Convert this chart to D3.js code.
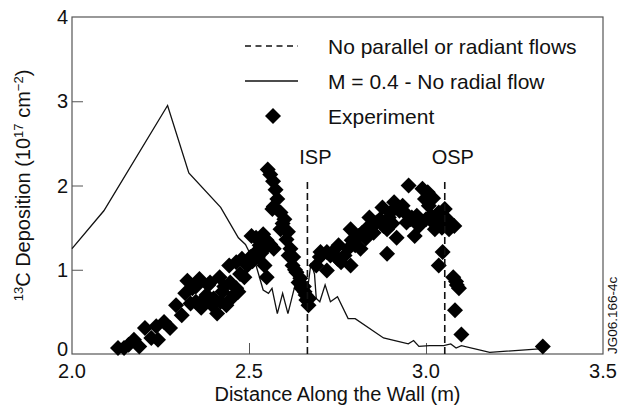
<!DOCTYPE html>
<html>
<head>
<meta charset="utf-8">
<script src="https://cdn.jsdelivr.net/npm/d3@7"></script>
<style>
  body { margin: 0; background: #fff; }
  text { font-family: "Liberation Sans", Arial, sans-serif; fill: #111; }
</style>
</head>
<body>
<svg width="625" height="410"></svg>
<script>
// model curve: M = 0.4 - No radial flow
const modelX = [2.0, 2.09, 2.27, 2.33, 2.42, 2.47, 2.49, 2.52, 2.54, 2.555, 2.565, 2.58, 2.595, 2.61, 2.635, 2.65, 2.665, 2.675, 2.685, 2.69, 2.70, 2.715, 2.73, 2.75, 2.78, 2.80, 2.88, 2.95, 2.965, 2.98, 3.01, 3.05, 3.07, 3.085, 3.10, 3.18, 3.32];
const modelY = [1.25, 1.70, 2.95, 2.15, 1.74, 1.38, 1.30, 1.05, 0.76, 0.72, 0.78, 0.48, 0.72, 0.48, 0.90, 0.80, 0.75, 1.08, 0.95, 0.66, 0.62, 0.82, 0.62, 0.68, 0.42, 0.42, 0.19, 0.12, 0.16, 0.09, 0.10, 0.10, 0.12, 0.07, 0.10, 0.02, 0.06];

// experiment points
const expX = [2.13, 2.147, 2.16, 2.175, 2.19, 2.206, 2.224, 2.243, 2.238, 2.26, 2.277, 2.294, 2.31, 2.326, 2.34, 2.35, 2.36, 2.374, 2.385, 2.396, 2.41, 2.417, 2.425, 2.436, 2.447, 2.458, 2.464, 2.444, 2.464, 2.48, 2.487, 2.504, 2.507, 2.52, 2.53, 2.54, 2.553, 2.56, 2.544, 2.55,
  2.32, 2.335, 2.35, 2.365, 2.38, 2.39, 2.40, 2.42, 2.43, 2.45, 2.47, 2.475, 2.495, 2.51, 2.525, 2.535, 2.52, 2.55, 2.57,
  2.553, 2.56, 2.568, 2.575, 2.58, 2.566, 2.589, 2.6, 2.589, 2.606, 2.617, 2.612, 2.623, 2.634, 2.64, 2.648, 2.657, 2.662, 2.668,
  2.57, 2.595, 2.61, 2.625, 2.63, 2.645, 2.655, 2.66, 2.67,
  2.69, 2.702, 2.72, 2.72, 2.736, 2.753, 2.76, 2.77, 2.787, 2.787, 2.8, 2.81, 2.82, 2.83, 2.84, 2.852, 2.86, 2.877, 2.89, 2.89, 2.9, 2.91, 2.917, 2.934, 2.94, 2.951, 2.957, 2.968, 2.974, 2.99, 2.997, 3.008, 3.014, 3.02, 3.025, 3.036, 3.042, 3.053, 3.065, 3.08, 3.036, 3.047, 3.077, 3.087, 3.093, 3.082, 3.1, 3.33,
  2.70, 2.73, 2.75, 2.78, 2.79, 2.815, 2.83, 2.85, 2.87, 2.88, 2.895, 2.905, 2.925, 2.945, 2.96, 2.98, 3.0, 3.005, 3.02, 3.03, 3.045, 3.06, 3.085];
const expY = [0.07, 0.07, 0.11, 0.17, 0.09, 0.31, 0.19, 0.17, 0.33, 0.38, 0.31, 0.58, 0.46, 0.87, 0.78, 0.62, 0.89, 0.66, 0.82, 0.58, 0.48, 0.91, 0.74, 0.58, 0.85, 0.70, 0.78, 1.05, 1.09, 1.13, 0.91, 1.15, 1.40, 1.21, 1.29, 1.42, 1.29, 1.30, 1.05, 0.91,
  0.72, 0.60, 0.80, 0.55, 0.70, 0.85, 0.66, 0.62, 0.80, 0.66, 0.74, 0.95, 1.05, 1.10, 1.15, 1.20, 1.38, 1.35, 1.25,
  2.19, 2.13, 2.05, 1.95, 1.84, 1.72, 1.68, 1.60, 1.48, 1.36, 1.25, 1.17, 1.05, 0.97, 0.85, 0.78, 0.74, 0.64, 0.58,
  1.75, 1.55, 1.45, 1.15, 1.00, 0.90, 0.80, 0.70, 0.66,
  1.05, 1.21, 0.99, 1.21, 1.21, 1.29, 1.09, 1.17, 1.05, 1.48, 1.29, 1.40, 1.44, 1.48, 1.62, 1.44, 1.56, 1.74, 1.48, 1.19, 1.68, 1.80, 1.38, 1.76, 1.68, 2.00, 1.60, 1.40, 1.64, 1.96, 1.84, 1.76, 1.64, 1.56, 1.48, 1.68, 1.56, 1.72, 1.48, 1.52, 1.05, 1.21, 0.91, 0.82, 0.78, 0.52, 0.23, 0.09,
  1.15, 1.17, 1.13, 1.25, 1.35, 1.25, 1.37, 1.55, 1.60, 1.52, 1.62, 1.55, 1.70, 1.56, 1.62, 1.52, 1.60, 1.92, 1.85, 1.62, 1.50, 1.60, 0.86];

// strike points and axis ticks
const strikeNames = ["ISP", "OSP"];
const strikeX = [2.665, 3.053];
const strikeTop = 2.06;
const xTicks = [2.0, 2.5, 3.0, 3.5];
const yTicks = [0, 1, 2, 3, 4];
const legendLabels = ["No parallel or radiant flows", "M = 0.4 - No radial flow", "Experiment"];

const margin = {top: 17, right: 22, bottom: 56, left: 72};
const W = 625, H = 410;
const svg = d3.select("svg");
const x = d3.scaleLinear().domain([2.0, 3.5]).range([margin.left, W - margin.right]);
const y = d3.scaleLinear().domain([0, 4]).range([H - margin.bottom, margin.top]);

// inward ticks
svg.append("g")
   .attr("transform", `translate(0,${y(0)})`)
   .call(d3.axisTop(x).tickValues(xTicks.slice(1, -1)).tickSize(11).tickFormat(""))
   .call(g => g.select(".domain").remove())
   .selectAll("line").attr("stroke", "#555");
svg.append("g")
   .attr("transform", `translate(${x(2.0)},0)`)
   .call(d3.axisRight(y).tickValues(yTicks.slice(1, -1)).tickSize(11).tickFormat(""))
   .call(g => g.select(".domain").remove())
   .selectAll("line").attr("stroke", "#555");

// tick labels
svg.append("g").selectAll("text")
   .data(xTicks).enter().append("text")
   .attr("x", d => x(d)).attr("y", y(0) + 24)
   .attr("text-anchor", "middle").attr("font-size", 20)
   .text(d => d.toFixed(1));
svg.append("g").selectAll("text")
   .data(yTicks).enter().append("text")
   .attr("x", x(2.0) - 4).attr("y", d => y(d) + (d === 0 ? 2 : 7))
   .attr("text-anchor", "end").attr("font-size", 20)
   .text(d => d);

// frame
svg.append("rect")
   .attr("x", x(2.0)).attr("y", y(4))
   .attr("width", x(3.5) - x(2.0)).attr("height", y(0) - y(4))
   .attr("fill", "none").attr("stroke", "#555").attr("stroke-width", 1.2);

// axis titles
svg.append("text")
   .attr("x", (x(2.0) + x(3.5)) / 2).attr("y", H - 9)
   .attr("text-anchor", "middle").attr("font-size", 20)
   .text("Distance Along the Wall (m)");
const yt = svg.append("text")
   .attr("transform", `translate(30,${(y(0) + y(4)) / 2}) rotate(-90)`)
   .attr("text-anchor", "middle").attr("font-size", 20);
yt.append("tspan").attr("font-size", 13).attr("dy", -7).text("13");
yt.append("tspan").attr("dy", 7).text("C Deposition (10");
yt.append("tspan").attr("font-size", 13).attr("dy", -7).text("17");
yt.append("tspan").attr("dy", 7).text(" cm");
yt.append("tspan").attr("font-size", 13).attr("dy", -7).text("\u22122");
yt.append("tspan").attr("dy", 7).text(")");

// side id label
svg.append("text")
   .attr("transform", `translate(${W - 8},${y(0)}) rotate(-90)`)
   .attr("font-size", 13.5).attr("text-anchor", "start")
   .text("JG06.166-4c");

// model line
const line = d3.line().x(d => x(d[0])).y(d => y(d[1]));
svg.append("path")
   .datum(d3.zip(modelX, modelY))
   .attr("d", line)
   .attr("fill", "none").attr("stroke", "#111").attr("stroke-width", 1.3);

// experiment diamonds
const diamond = d3.symbol().type(d3.symbolSquare).size(128);
svg.append("g").selectAll("path")
   .data(d3.zip(expX, expY)).enter().append("path")
   .attr("d", diamond)
   .attr("transform", d => `translate(${x(d[0])},${y(d[1])}) rotate(45)`)
   .attr("fill", "#000");

// strike point lines
svg.append("g").selectAll("line")
   .data(strikeX).enter().append("line")
   .attr("x1", d => x(d)).attr("x2", d => x(d))
   .attr("y1", y(0)).attr("y2", y(strikeTop))
   .attr("stroke", "#111").attr("stroke-width", 1.6)
   .attr("stroke-dasharray", "7,4");
svg.append("g").selectAll("text")
   .data(strikeNames).enter().append("text")
   .attr("x", (d, i) => x(strikeX[i]) + 8)
   .attr("y", y(2.26))
   .attr("text-anchor", "middle").attr("font-size", 20)
   .text(d => d);

// legend
const lg = svg.append("g").attr("transform", "translate(245,46)");
lg.append("line").attr("x1", 0).attr("x2", 53).attr("y1", 0).attr("y2", 0)
  .attr("stroke", "#111").attr("stroke-width", 1.5).attr("stroke-dasharray", "6,4.5");
lg.append("line").attr("x1", 0).attr("x2", 53).attr("y1", 35).attr("y2", 35)
  .attr("stroke", "#111").attr("stroke-width", 1.5);
lg.append("path").attr("d", diamond)
  .attr("transform", "translate(28,70) rotate(45)").attr("fill", "#000");
lg.selectAll("text")
  .data(legendLabels).enter().append("text")
  .attr("x", 83).attr("y", (d, i) => i * 35 + 7.5)
  .attr("font-size", 21)
  .text(d => d);
</script>
</body>
</html>
